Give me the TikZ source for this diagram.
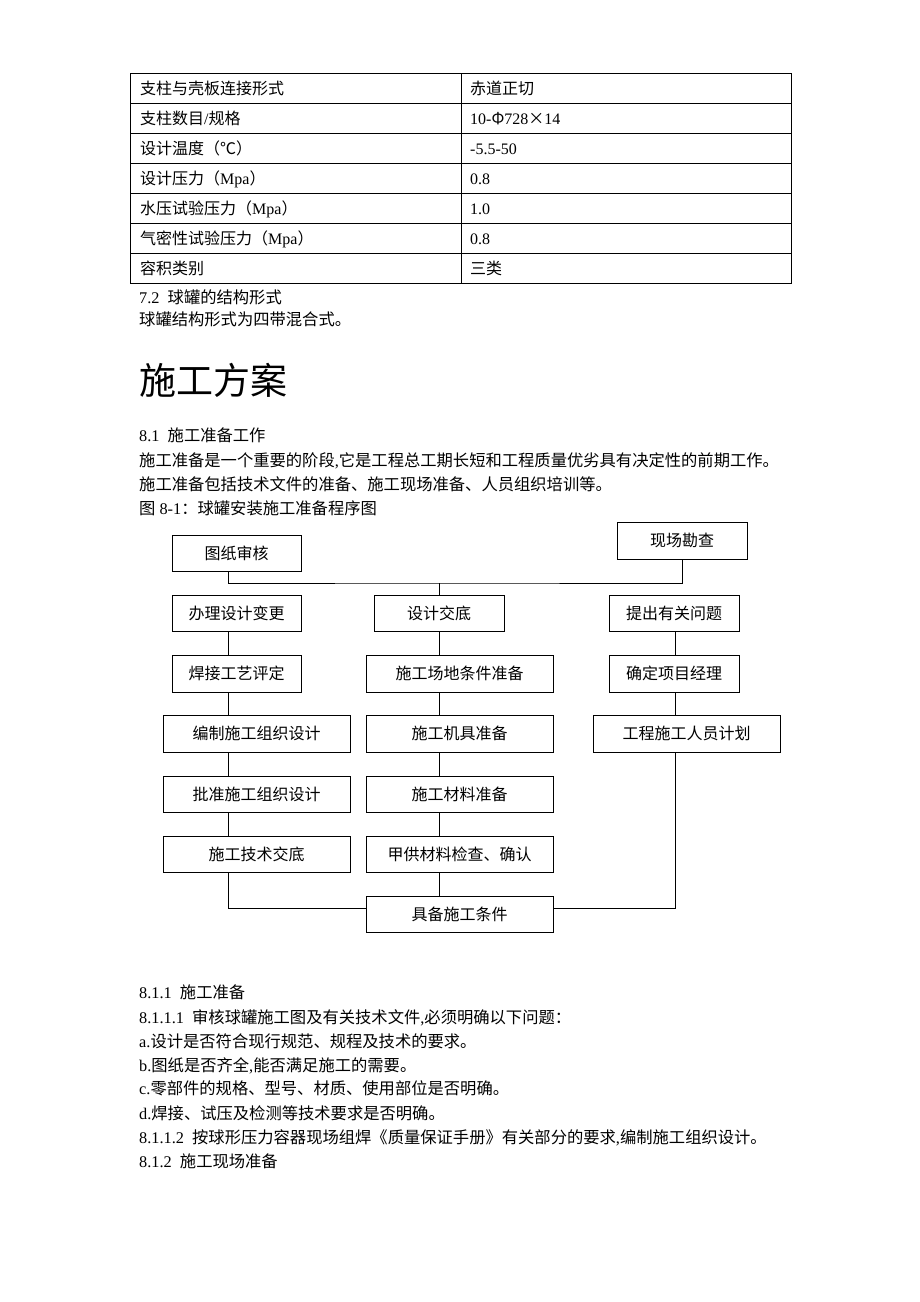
\documentclass[tikz,border=0pt]{standalone}
\usepackage{fontspec}
\setmainfont{Liberation Serif}
\newfontfamily\cjkf{Noto Sans CJK SC}
\newcommand\zh[1]{{\cjkf #1}}
\begin{document}
\begin{tikzpicture}[x=1pt,y=-1pt,
  font=\fontsize{16}{19}\selectfont,
  txt/.style={anchor=base west, inner sep=0pt},
  body/.style={txt, font=\fontsize{16.3}{19}\selectfont},
  box/.style={draw, line width=1pt, inner sep=0pt, minimum height=36pt, align=center},
  nbox/.style={box, minimum width=130pt},
  wbox/.style={box, minimum width=187pt},
  conn/.style={line width=1pt},
  rule/.style={line width=1pt}]
\fill[white] (0,0) rectangle (920,1302);
\useasboundingbox (0,0) rectangle (920,1302);

% ---------- table ----------
\draw[rule] (130,73) rectangle (791,283);
\foreach \yy in {103,133,163,193,223,253} \draw[rule] (130,\yy) -- (791,\yy);
\draw[rule] (461,73) -- (461,283);

\node[txt] (r1a) at (140,94) {\zh{支柱与壳板连接形式}};
\node[txt] (r1b) at (470,94) {\zh{赤道正切}};
\node[txt] (r2a) at (140,124) {\zh{支柱数目}/\zh{规格}};
\node[txt] (r2b) at (470,124) {10-\zh{Φ}728\zh{×}14};
\node[txt] (r3a) at (140,154) {\zh{设计温度（℃）}};
\node[txt] (r3b) at (470,154) {-5.5-50};
\node[txt] (r4a) at (140,184) {\zh{设计压力（}Mpa\zh{）}};
\node[txt] (r4b) at (470,184) {0.8};
\node[txt] (r5a) at (140,214) {\zh{水压试验压力（}Mpa\zh{）}};
\node[txt] (r5b) at (470,214) {1.0};
\node[txt] (r6a) at (140,244) {\zh{气密性试验压力（}Mpa\zh{）}};
\node[txt] (r6b) at (470,244) {0.8};
\node[txt] (r7a) at (140,274) {\zh{容积类别}};
\node[txt] (r7b) at (470,274) {\zh{三类}};

% ---------- text ----------
\node[body] (t72) at (139,303) {7.2\ \ \zh{球罐的结构形式}};
\node[body] (t72b) at (139,325) {\zh{球罐结构形式为四带混合式。}};
\node[txt, font=\fontsize{37}{40}\selectfont] (head) at (139,394) {\zh{施工方案}};
\node[body] (t81) at (139,441) {8.1\ \ \zh{施工准备工作}};
\node[body] (t81a) at (139,466) {\zh{施工准备是一个重要的阶段},\zh{它是工程总工期长短和工程质量优劣具有决定性的前期工作。}};
\node[body] (t81b) at (139,490) {\zh{施工准备包括技术文件的准备、施工现场准备、人员组织培训等。}};
\node[body] (fig) at (139,514) {\zh{图} 8-1\zh{：球罐安装施工准备程序图}};

% ---------- flowchart ----------
\node[box, minimum width=129pt] (tz) at (236.5,553) {\zh{图纸审核}};
\node[nbox, minimum height=37pt] (xc) at (682,540.5) {\zh{现场勘查}};

\node[box, minimum width=129pt] (bl) at (236.5,613) {\zh{办理设计变更}};
\node[nbox] (sj) at (439,613) {\zh{设计交底}};
\node[nbox] (tc) at (674,613) {\zh{提出有关问题}};

\node[box, minimum width=129pt, minimum height=37pt] (hj) at (236.5,673.5) {\zh{焊接工艺评定}};
\node[wbox, minimum height=37pt] (cd) at (459.5,673.5) {\zh{施工场地条件准备}};
\node[nbox, minimum height=37pt] (qd) at (674,673.5) {\zh{确定项目经理}};

\node[wbox, minimum height=37pt] (bz) at (256.5,733.5) {\zh{编制施工组织设计}};
\node[wbox, minimum height=37pt] (jj) at (459.5,733.5) {\zh{施工机具准备}};
\node[wbox, minimum height=37pt] (ry) at (686.5,733.5) {\zh{工程施工人员计划}};

\node[wbox] (pz) at (256.5,794) {\zh{批准施工组织设计}};
\node[wbox] (cl) at (459.5,794) {\zh{施工材料准备}};

\node[wbox] (js) at (256.5,854) {\zh{施工技术交底}};
\node[wbox] (jg) at (459.5,854) {\zh{甲供材料检查、确认}};

\node[wbox] (jb) at (459.5,914) {\zh{具备施工条件}};

\coordinate (lx) at (228,0);
\coordinate (mx) at (439,0);
\coordinate (rx) at (675,0);
\coordinate (j1) at (439,583);

\draw[conn] (tz.south -| lx) |- (j1) -| (xc.south);
\draw[conn] (j1) -- (sj.north);

\draw[conn] (bl.south -| lx) -- (hj.north -| lx);
\draw[conn] (hj.south -| lx) -- (bz.north -| lx);
\draw[conn] (bz.south -| lx) -- (pz.north -| lx);
\draw[conn] (pz.south -| lx) -- (js.north -| lx);
\draw[conn] (js.south -| lx) |- ([yshift=6pt]jb.west);

\draw[conn] (sj.south) -- (cd.north -| mx);
\draw[conn] (cd.south -| mx) -- (jj.north -| mx);
\draw[conn] (jj.south -| mx) -- (cl.north -| mx);
\draw[conn] (cl.south -| mx) -- (jg.north -| mx);
\draw[conn] (jg.south -| mx) -- (jb.north -| mx);

\draw[conn] (tc.south -| rx) -- (qd.north -| rx);
\draw[conn] (qd.south -| rx) -- (ry.north -| rx);
\draw[conn] (ry.south -| rx) |- ([yshift=6pt]jb.east);

% ---------- text below ----------
\node[body] (s1) at (139,998) {8.1.1\ \ \zh{施工准备}};
\node[body] (s2) at (139,1023) {8.1.1.1\ \ \zh{审核球罐施工图及有关技术文件},\zh{必须明确以下问题：}};
\node[body] (s3) at (139,1047) {a.\zh{设计是否符合现行规范、规程及技术的要求。}};
\node[body] (s4) at (139,1071) {b.\zh{图纸是否齐全},\zh{能否满足施工的需要。}};
\node[body] (s5) at (139,1094) {c.\zh{零部件的规格、型号、材质、使用部位是否明确。}};
\node[body] (s6) at (139,1119) {d.\zh{焊接、试压及检测等技术要求是否明确。}};
\node[body] (s7) at (139,1143) {8.1.1.2\ \ \zh{按球形压力容器现场组焊《质量保证手册》有关部分的要求},\zh{编制施工组织设计。}};
\node[body] (s8) at (139,1167) {8.1.2\ \ \zh{施工现场准备}};
\end{tikzpicture}
\end{document}
